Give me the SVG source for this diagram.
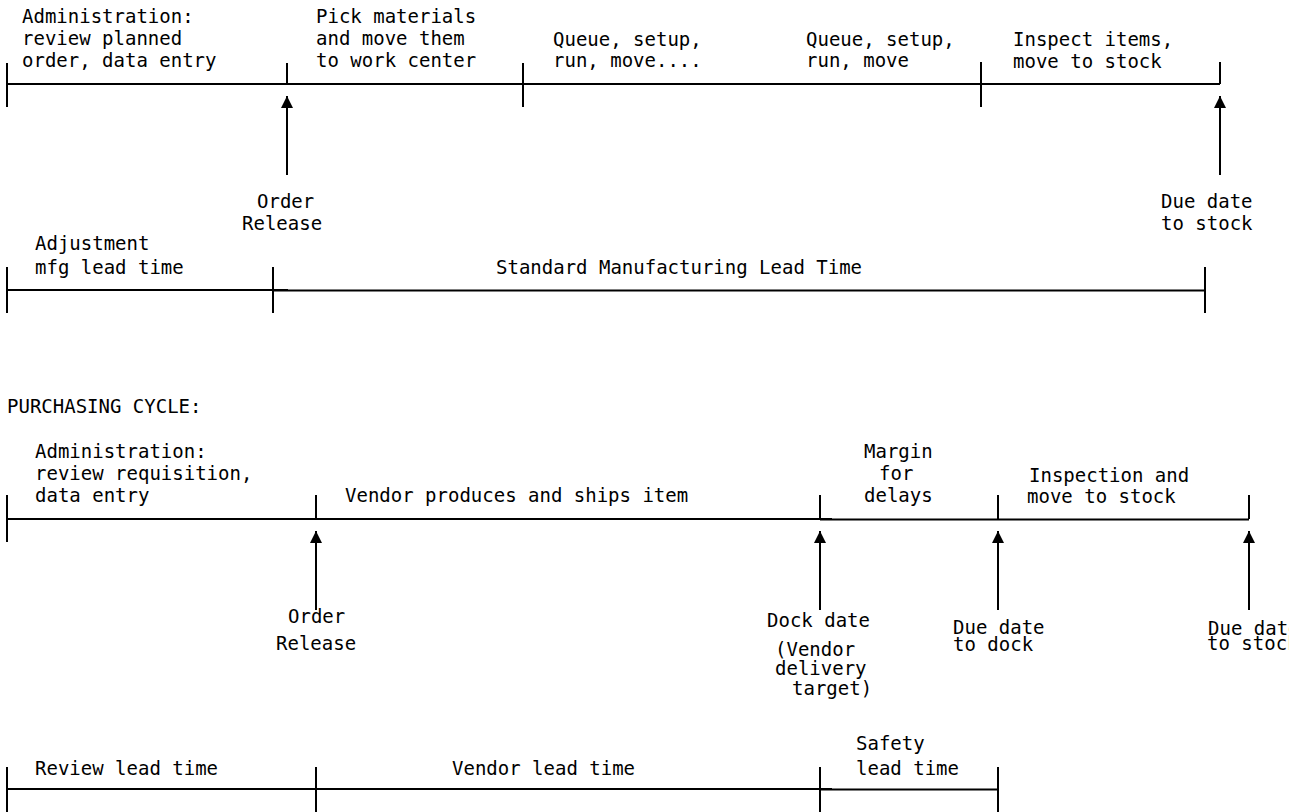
<svg xmlns="http://www.w3.org/2000/svg" width="1289" height="812" viewBox="0 0 1289 812">
<style>
text{font-family:"DejaVu Sans Mono","Liberation Mono",monospace;font-size:19px;fill:#000}
.ln{stroke:#000;stroke-width:2;fill:none}
</style>
<defs>
<marker id="ah" viewBox="0 0 12 12" refX="12" refY="6" markerWidth="12" markerHeight="12" markerUnits="userSpaceOnUse" orient="auto">
<path d="M0,0 L12,6 L0,12 Z" fill="#000"/>
</marker>
</defs>
<rect width="1289" height="812" fill="#fff"/>

<g id="connectors">
<!-- manufacturing timeline -->
<line class="ln" x1="7" y1="84" x2="1220" y2="84"/>
<line class="ln" x1="7" y1="63" x2="7" y2="107"/>
<line class="ln" x1="287" y1="63" x2="287" y2="84"/>
<line class="ln" x1="523" y1="63" x2="523" y2="107"/>
<line class="ln" x1="981" y1="62" x2="981" y2="107"/>
<line class="ln" x1="1220" y1="62" x2="1220" y2="84"/>
<line class="ln" x1="287" y1="175" x2="287" y2="96" marker-end="url(#ah)"/>
<line class="ln" x1="1220" y1="175" x2="1220" y2="96" marker-end="url(#ah)"/>
<!-- lead time bar -->
<line class="ln" x1="7" y1="290" x2="288" y2="290"/>
<line class="ln" x1="273" y1="290.5" x2="1205" y2="290.5"/>
<line class="ln" x1="7" y1="267" x2="7" y2="313"/>
<line class="ln" x1="273" y1="267" x2="273" y2="313"/>
<line class="ln" x1="1205" y1="267" x2="1205" y2="313"/>
<!-- purchasing timeline -->
<line class="ln" x1="7" y1="519" x2="832" y2="519"/>
<line class="ln" x1="820" y1="519.5" x2="1249" y2="519.5"/>
<line class="ln" x1="7" y1="495" x2="7" y2="542"/>
<line class="ln" x1="316" y1="495" x2="316" y2="519"/>
<line class="ln" x1="820" y1="495" x2="820" y2="519"/>
<line class="ln" x1="998" y1="495" x2="998" y2="519"/>
<line class="ln" x1="1249" y1="495" x2="1249" y2="519"/>
<line class="ln" x1="316" y1="610" x2="316" y2="531" marker-end="url(#ah)"/>
<line class="ln" x1="820" y1="610" x2="820" y2="531" marker-end="url(#ah)"/>
<line class="ln" x1="998" y1="610" x2="998" y2="531" marker-end="url(#ah)"/>
<line class="ln" x1="1249" y1="610" x2="1249" y2="531" marker-end="url(#ah)"/>
<!-- purchasing lead time bar -->
<line class="ln" x1="7" y1="789" x2="832" y2="789"/>
<line class="ln" x1="820" y1="789.5" x2="998" y2="789.5"/>
<line class="ln" x1="7" y1="767" x2="7" y2="812"/>
<line class="ln" x1="316" y1="767" x2="316" y2="812"/>
<line class="ln" x1="820" y1="767" x2="820" y2="812"/>
<line class="ln" x1="998" y1="767" x2="998" y2="812"/>
</g>

<g id="mfg-admin"><text x="22" y="23">Administration:</text><text x="22" y="45">review planned</text><text x="22" y="67">order, data entry</text></g>
<g id="mfg-pick"><text x="316" y="23">Pick materials</text><text x="316" y="45">and move them</text><text x="316" y="67">to work center</text></g>
<g id="mfg-queue1"><text x="553" y="46">Queue, setup,</text><text x="553" y="67">run, move....</text></g>
<g id="mfg-queue2"><text x="806" y="46">Queue, setup,</text><text x="806" y="67">run, move</text></g>
<g id="mfg-inspect"><text x="1013" y="46">Inspect items,</text><text x="1013" y="68">move to stock</text></g>
<g id="mfg-release"><text x="257" y="208">Order</text><text x="242" y="230">Release</text></g>
<g id="mfg-due"><text x="1161" y="208">Due date</text><text x="1161" y="230">to stock</text></g>
<g id="mfg-adjust"><text x="35" y="250">Adjustment</text><text x="35" y="274">mfg lead time</text></g>
<g id="mfg-standard"><text x="496" y="274">Standard Manufacturing Lead Time</text></g>

<g id="purchasing-title"><text x="7" y="413">PURCHASING CYCLE:</text></g>
<g id="pur-admin"><text x="35" y="458">Administration:</text><text x="35" y="480">review requisition,</text><text x="35" y="502">data entry</text></g>
<g id="pur-vendor"><text x="345" y="502">Vendor produces and ships item</text></g>
<g id="pur-margin"><text x="864" y="458">Margin</text><text x="879" y="480">for</text><text x="864" y="502">delays</text></g>
<g id="pur-inspect"><text x="1029" y="482">Inspection and</text><text x="1027" y="503">move to stock</text></g>
<g id="pur-release"><text x="288" y="623">Order</text><text x="276" y="650">Release</text></g>
<g id="pur-dock"><text x="767" y="627">Dock date</text><text x="775" y="656">(Vendor</text><text x="775" y="675">delivery</text><text x="792" y="695">target)</text></g>
<g id="pur-duedock"><text x="953" y="634">Due date</text><text x="953" y="651">to dock</text></g>
<g id="pur-duestock"><text x="1208" y="635">Due date</text><text x="1207" y="650">to stock</text></g>
<g id="pur-review"><text x="35" y="775">Review lead time</text></g>
<g id="pur-vendorlt"><text x="452" y="775">Vendor lead time</text></g>
<g id="pur-safety"><text x="856" y="750">Safety</text><text x="856" y="775">lead time</text></g>
</svg>
